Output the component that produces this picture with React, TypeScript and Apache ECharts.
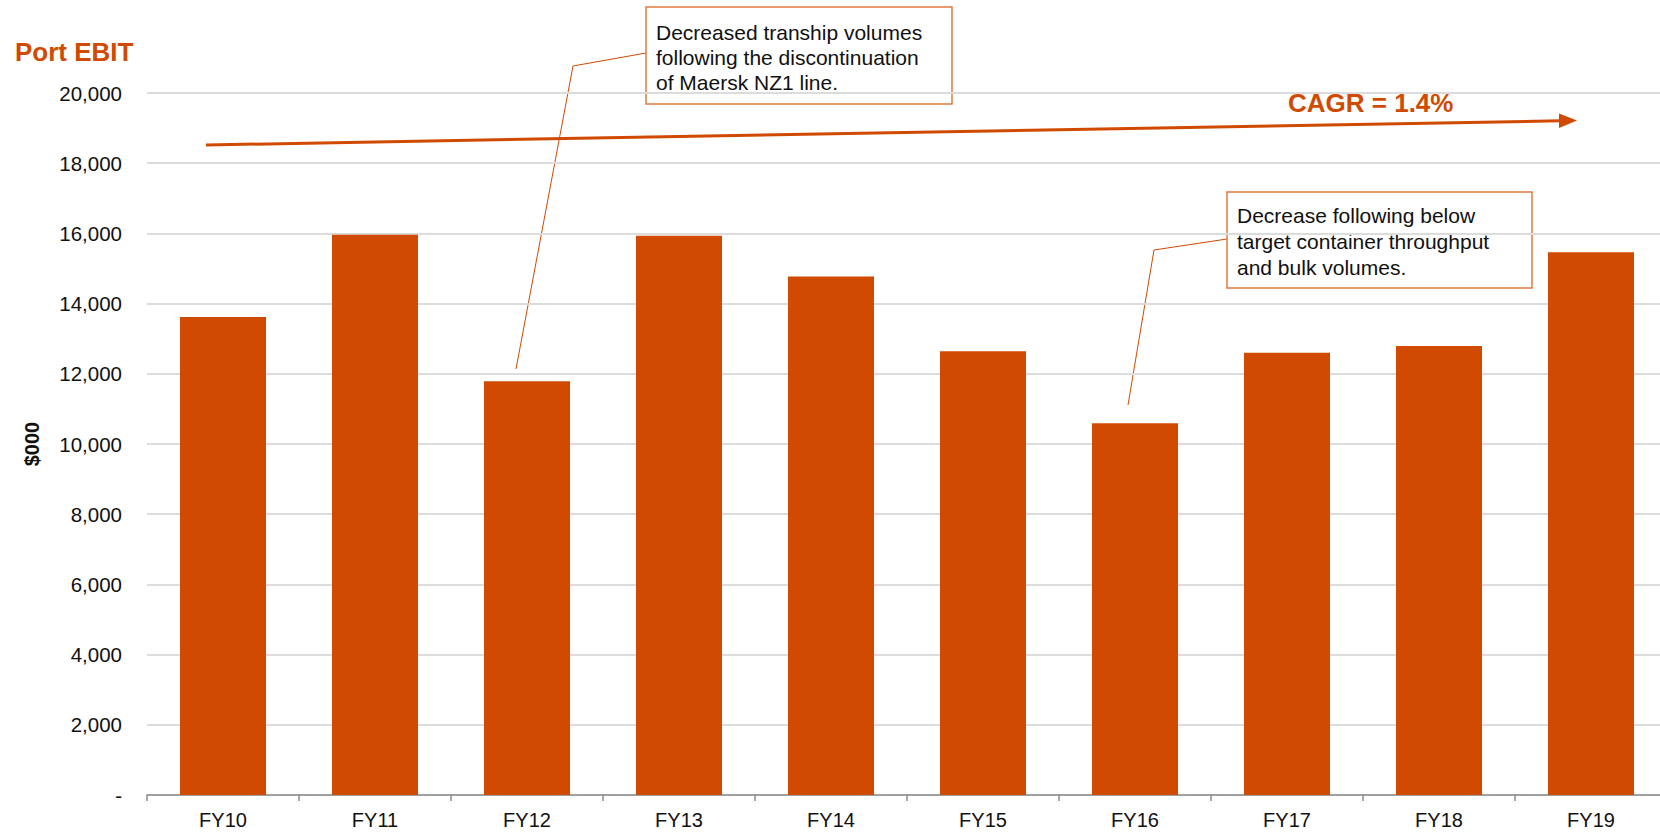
import React, { useEffect, useRef } from "react";
import * as echarts from "echarts";

const categories = ["FY10", "FY11", "FY12", "FY13", "FY14", "FY15", "FY16", "FY17", "FY18", "FY19"];
const ebitValues = [13620, 15960, 11790, 15930, 14770, 12640, 10590, 12600, 12790, 15460];
const yTicks = { min: 0, max: 20000, interval: 2000 };
const titleText = "Port EBIT";
const unitText = "$000";
const cagrText = "CAGR = 1.4%";
const note1 = ["Decreased tranship volumes", "following the discontinuation", "of Maersk NZ1 line."];
const note2 = ["Decrease following below", "target container throughput", "and bulk volumes."];

const ORANGE = "#D04A02";
const FONT = "Arial, 'Liberation Sans', sans-serif";

export default function App() {
  const ref = useRef<HTMLDivElement>(null);
  useEffect(() => {
    if (!ref.current) return;
    const chart = echarts.init(ref.current, undefined, { renderer: "svg" });
    const arrowStart = [206, 145];
    const arrowTip = [1577, 120.5];
    chart.setOption({
      animation: false,
      textStyle: { fontFamily: FONT },
      title: {
        text: titleText,
        left: 15,
        top: 39,
        padding: 0,
        textStyle: { color: ORANGE, fontSize: 26, fontWeight: "bold", fontFamily: FONT },
      },
      grid: { left: 147, right: 3, top: 93, bottom: 37, containLabel: false },
      xAxis: {
        type: "category",
        data: categories,
        axisLine: { show: true, lineStyle: { color: "#8c8c8c", width: 1.5 } },
        axisTick: { show: true, length: 6, lineStyle: { color: "#8c8c8c", width: 1.5 } },
        axisLabel: { color: "#111", fontSize: 20, margin: 15, fontFamily: FONT },
      },
      yAxis: {
        type: "value",
        min: yTicks.min,
        max: yTicks.max,
        interval: yTicks.interval,
        name: unitText,
        nameLocation: "middle",
        nameRotate: 90,
        nameGap: 105,
        nameTextStyle: { color: "#111", fontSize: 20, fontWeight: "bold", fontFamily: FONT },
        axisLine: { show: false },
        axisTick: { show: false },
        axisLabel: {
          color: "#111",
          fontSize: 20.5,
          margin: 25,
          fontFamily: FONT,
          formatter: (v: number) => (v === 0 ? "-" : v.toLocaleString("en-US")),
        },
        splitLine: { show: true, lineStyle: { color: "#dcdcdc", width: 2 } },
      },
      series: [
        {
          type: "bar",
          data: ebitValues,
          barWidth: 86,
          itemStyle: { color: ORANGE },
        },
      ],
      graphic: [
        {
          type: "line",
          shape: { x1: arrowStart[0], y1: arrowStart[1], x2: 1560, y2: 120.8 },
          style: { stroke: ORANGE, lineWidth: 3 },
        },
        {
          type: "polygon",
          shape: { points: [arrowTip, [1559, 113.5], [1559, 128]] },
          style: { fill: ORANGE },
        },
        {
          type: "text",
          x: 1288,
          y: 103,
          style: {
            text: cagrText,
            fill: ORANGE,
            font: `bold 26px ${FONT}`,
            verticalAlign: "middle",
          },
        },
        {
          type: "polyline",
          shape: { points: [[646, 53], [573, 66], [516, 369]] },
          style: { stroke: ORANGE, lineWidth: 1, fill: null },
        },
        {
          type: "rect",
          shape: { x: 646, y: 7, width: 306, height: 97 },
          style: { fill: "#fff", stroke: "#E2793F", lineWidth: 1.5 },
        },
        {
          type: "text",
          x: 656,
          y: 19.5,
          style: {
            text: note1.join("\n"),
            fill: "#111",
            font: `21px ${FONT}`,
            lineHeight: 25,
            verticalAlign: "top",
          },
        },
        {
          type: "polyline",
          shape: { points: [[1227, 239], [1154, 250], [1128, 405]] },
          style: { stroke: ORANGE, lineWidth: 1, fill: null },
        },
        {
          type: "rect",
          shape: { x: 1227, y: 192, width: 305, height: 96 },
          style: { fill: "#fff", stroke: "#E2793F", lineWidth: 1.5 },
        },
        {
          type: "text",
          x: 1237,
          y: 202,
          style: {
            text: note2.join("\n"),
            fill: "#111",
            font: `21px ${FONT}`,
            lineHeight: 26,
            verticalAlign: "top",
          },
        },
      ],
    });
    return () => chart.dispose();
  }, []);
  return (
    <div
      style={{
        position: "absolute",
        left: 0,
        top: 0,
        width: 1660,
        height: 832,
        overflow: "hidden",
        background: "#fff",
      }}
    >
      <div ref={ref} style={{ width: 1670, height: 832 }} />
    </div>
  );
}
